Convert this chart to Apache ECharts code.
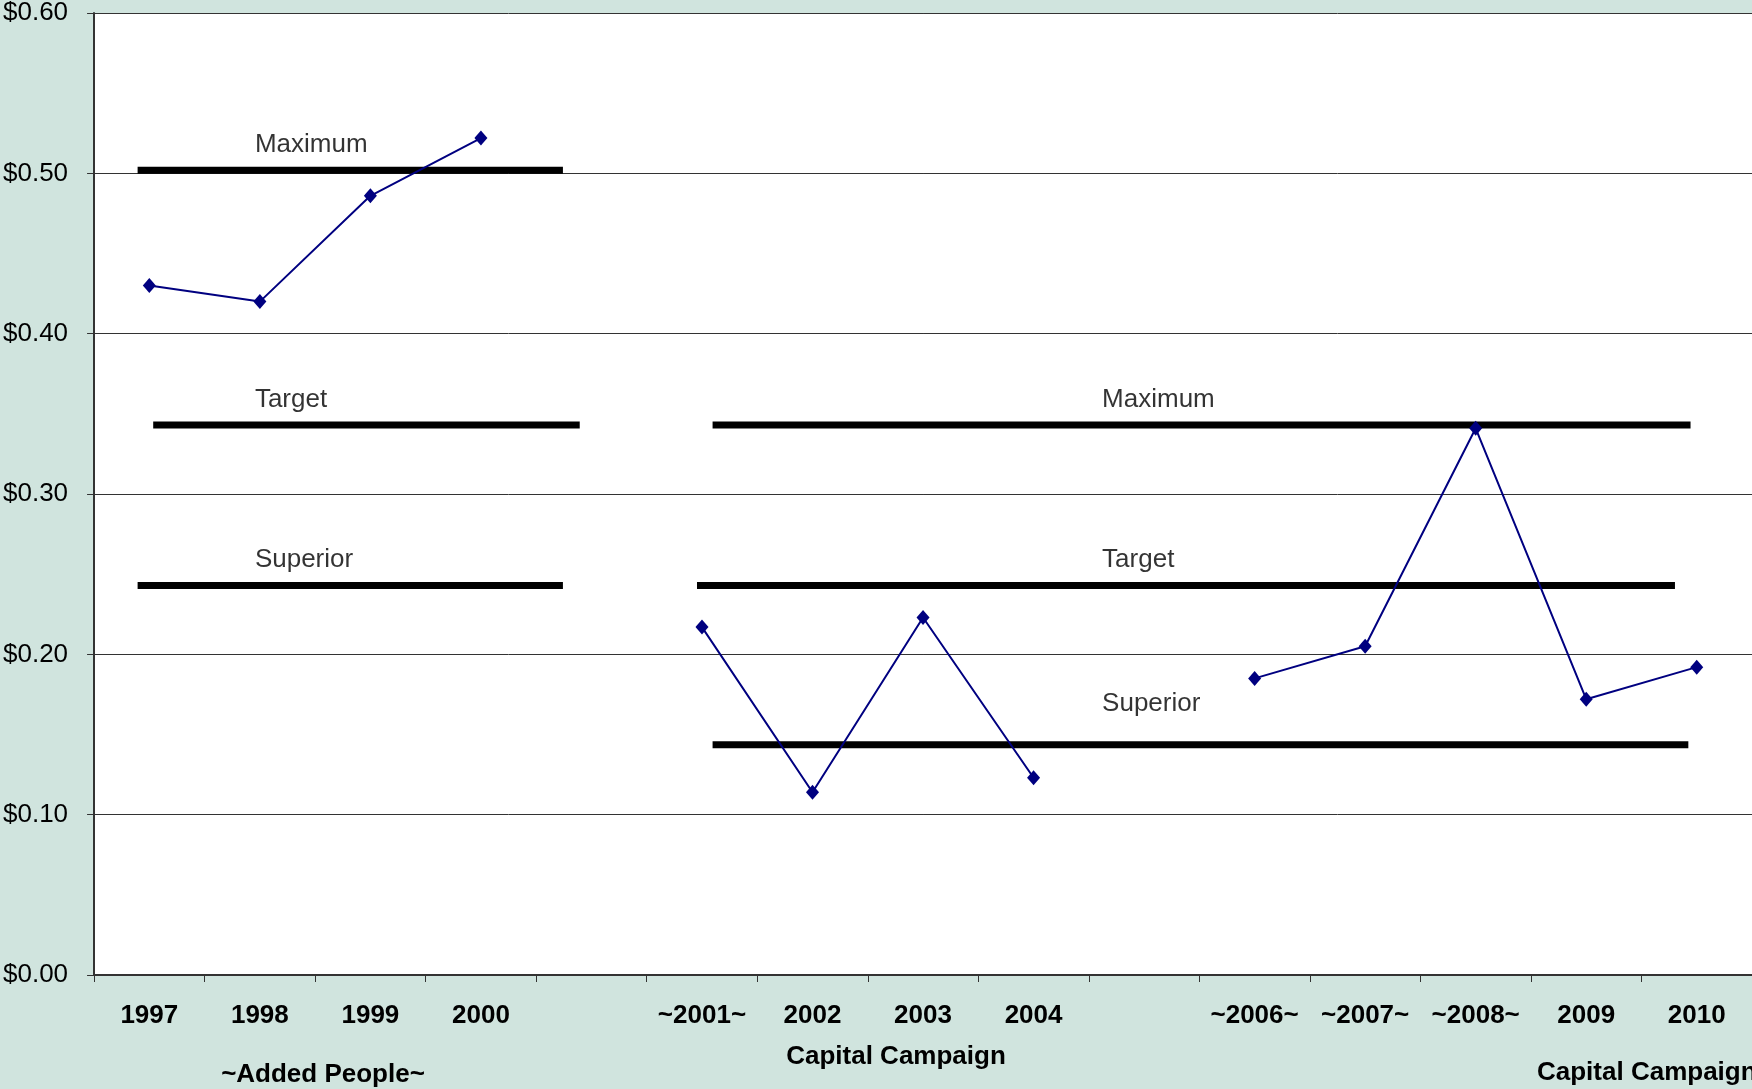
<!DOCTYPE html>
<html>
<head>
<meta charset="utf-8">
<title>Cost chart</title>
<script src="https://cdn.jsdelivr.net/npm/echarts@6/dist/echarts.min.js"></script>
<style>
  html, body { margin: 0; padding: 0; background: #D0E4DE; }
  #chart { width: 1752px; height: 1089px; }
</style>
</head>
<body>
<div id="chart"></div>
<script>
// categories (blank slots break the line)
var years = ['1997', '1998', '1999', '2000', '', '~2001~', '2002', '2003', '2004', '', '~2006~', '~2007~', '~2008~', '2009', '2010'];
// cost per item, null = gap
var costs = [0.430, 0.420, 0.486, 0.522, null, 0.217, 0.114, 0.223, 0.123, null, 0.185, 0.205, 0.341, 0.172, 0.192];
var yTicks = [0, 0.1, 0.2, 0.3, 0.4, 0.5, 0.6];

// reference levels, left block and right block
var levelNames = ['Maximum', 'Target', 'Superior'];
var leftLevels = [0.502, 0.343, 0.243];
var rightLevels = [0.343, 0.243, 0.1436];
// spans of each level bar, in category units
var leftSpans = [[0.394, 4.242], [0.535, 4.394], [0.394, 4.242]];
var rightSpans = [[5.596, 14.444], [5.455, 14.303], [5.596, 14.424]];
// where the level names sit
var leftLabelAt = [[1.455, 0.518], [1.455, 0.359], [1.455, 0.259]];
var rightLabelAt = [[9.12, 0.359], [9.12, 0.259], [9.12, 0.169]];

var FONT = '"Liberation Sans", Arial, sans-serif';

var myChart = echarts.init(document.getElementById('chart'));

var series = [];
function addLevels(levels, spans, labelAt) {
  for (var i = 0; i < levels.length; i++) {
    series.push({
      type: 'line',
      xAxisIndex: 1,
      symbol: 'none',
      silent: true,
      z: 2,
      lineStyle: { color: '#000', width: 7, cap: 'butt' },
      data: [[spans[i][0], levels[i]], [spans[i][1], levels[i]]]
    });
  }
  series.push({
    type: 'scatter',
    xAxisIndex: 1,
    symbolSize: 0,
    silent: true,
    label: {
      show: true,
      position: 'right',
      distance: 0,
      color: '#000',
      fontFamily: FONT,
      fontSize: 26,
      formatter: function (p) { return levelNames[p.dataIndex]; }
    },
    data: labelAt
  });
}
addLevels(leftLevels, leftSpans, leftLabelAt);
addLevels(rightLevels, rightSpans, rightLabelAt);

series.push({
  type: 'line',
  xAxisIndex: 0,
  data: costs,
  connectNulls: false,
  symbol: 'diamond',
  symbolSize: [13, 15],
  z: 5,
  itemStyle: { color: '#000080' },
  lineStyle: { color: '#000080', width: 2 }
});

var option = {
  backgroundColor: '#D0E4DE',
  animation: false,
  grid: {
    left: 94, right: 0, top: 13, bottom: 114,
    show: true, backgroundColor: '#fff', borderWidth: 0
  },
  xAxis: [{
    type: 'category',
    data: years,
    boundaryGap: true,
    axisLine: { lineStyle: { color: '#333', width: 2 } },
    axisTick: { show: true, interval: 0, length: 7, inside: false, lineStyle: { color: '#333', width: 1 } },
    axisLabel: {
      interval: 0, margin: 28, color: '#000',
      fontFamily: FONT, fontSize: 26, fontWeight: 'bold'
    },
    splitLine: { show: false }
  }, {
    type: 'value',
    min: 0, max: years.length,
    show: false
  }],
  yAxis: {
    type: 'value',
    min: yTicks[0],
    max: yTicks[yTicks.length - 1],
    interval: 0.1,
    axisLine: { show: true, lineStyle: { color: '#333', width: 2 } },
    axisTick: { show: true, length: 7, lineStyle: { color: '#333' } },
    axisLabel: {
      margin: 26, color: '#000', fontFamily: FONT, fontSize: 26,
      formatter: function (v) { return '$' + v.toFixed(2); }
    },
    splitLine: { lineStyle: { color: '#333', width: 1 } }
  },
  graphic: [
    { type: 'text', x: 896, y: 1057, style: { text: 'Capital Campaign', align: 'center', verticalAlign: 'middle', font: 'bold 26px ' + FONT, fill: '#000' } },
    { type: 'text', x: 323, y: 1075, style: { text: '~Added People~', align: 'center', verticalAlign: 'middle', font: 'bold 26px ' + FONT, fill: '#000' } },
    { type: 'text', x: 1537, y: 1073, style: { text: 'Capital Campaign', align: 'left', verticalAlign: 'middle', font: 'bold 26px ' + FONT, fill: '#000' } }
  ],
  series: series
};

if (option && typeof option === "object") {
  myChart.setOption(option, true);
}
</script>
</body>
</html>
